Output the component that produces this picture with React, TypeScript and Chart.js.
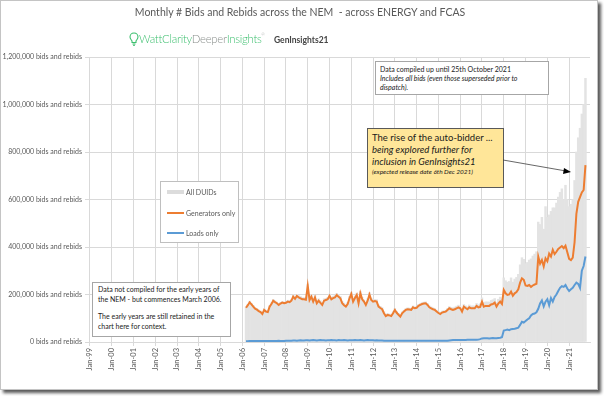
import React, { useEffect, useRef } from 'react';
import { Chart, registerables } from 'chart.js';
Chart.register(...registerables);

const MONTH_NAMES = ['Jan', 'Feb', 'Mar', 'Apr', 'May', 'Jun', 'Jul', 'Aug', 'Sep', 'Oct', 'Nov', 'Dec'];
const FIRST_YEAR = 1999;
const LAST_YEAR = 2021;
const categories: string[] = [];
for (let y = FIRST_YEAR; y <= LAST_YEAR; y++) {
  for (const m of MONTH_NAMES) categories.push(`${m}-${String(y % 100).padStart(2, '0')}`);
}
const DATA_START = 'Mar-06';

// thousands of bids and rebids per month, Mar-06 .. Oct-21
const allDuids = [
  148, 159, 172, 163, 154, 145, 141, 135, 131, 123,
  140, 133, 131, 154, 165, 179, 173, 168, 162, 167, 171, 168,
  171, 176, 174, 180, 198, 189, 200, 195, 192, 187, 187, 186,
  244, 184, 199, 179, 196, 170, 182, 174, 164, 182, 184, 188,
  202, 189, 193, 196, 205, 199, 192, 171, 164, 157, 167, 192,
  210, 178, 194, 206, 171, 214, 188, 177, 164, 183, 208, 185,
  178, 179, 178, 156, 150, 145, 127, 115, 120, 118, 115, 127,
  141, 129, 121, 113, 127, 134, 141, 144, 143, 141, 152, 148,
  150, 158, 162, 166, 168, 169, 162, 152, 148, 144, 141, 134,
  128, 124, 130, 132, 134, 141, 149, 146, 144, 147, 151, 155,
  151, 137, 158, 152, 148, 156, 152, 152, 152, 162, 157, 161,
  186, 166, 169, 169, 168, 175, 178, 183, 166, 180, 189, 181,
  270, 258, 252, 255, 270, 252, 265, 272, 285, 325, 355, 348,
  330, 335, 345, 350, 362, 370, 380, 505, 495, 525, 475, 570,
  525, 535, 550, 565, 565, 585, 610, 630, 645, 600, 660, 600,
  570, 580, 600, 680, 800, 860, 900, 960, 1000, 1110,
];
const generatorsOnly = [
  144, 155, 167, 158, 149, 140, 136, 130, 126, 118,
  135, 128, 126, 149, 160, 174, 168, 163, 156, 162, 166, 163,
  165, 170, 168, 174, 191, 182, 194, 188, 184, 180, 180, 178,
  236, 177, 191, 170, 188, 163, 174, 165, 156, 174, 177, 180,
  194, 180, 185, 188, 198, 190, 184, 163, 155, 149, 160, 184,
  202, 170, 185, 198, 163, 205, 180, 170, 156, 174, 200, 177,
  170, 172, 170, 149, 143, 138, 121, 109, 114, 112, 109, 121,
  135, 123, 115, 107, 121, 128, 135, 138, 137, 135, 146, 142,
  144, 152, 156, 160, 162, 163, 156, 146, 142, 138, 135, 128,
  122, 118, 124, 126, 128, 135, 142, 138, 135, 138, 142, 146,
  142, 128, 149, 143, 138, 146, 142, 142, 142, 152, 146, 148,
  170, 149, 152, 152, 152, 158, 160, 166, 149, 162, 170, 160,
  219, 205, 198, 200, 212, 195, 205, 210, 222, 250, 268, 262,
  238, 236, 240, 232, 238, 242, 245, 359, 330, 345, 318, 352,
  340, 372, 360, 388, 370, 380, 392, 398, 404, 395, 405, 378,
  350, 345, 355, 420, 540, 590, 610, 630, 640, 745,
];
const loadsOnly = [
  3, 3, 4, 4, 4, 4, 4, 4, 4, 4,
  4, 4, 4, 4, 4, 4, 4, 4, 5, 4, 4, 4,
  5, 5, 5, 5, 6, 6, 5, 6, 7, 6, 6, 7,
  7, 6, 7, 8, 7, 6, 7, 8, 7, 7, 6, 7,
  7, 8, 7, 7, 6, 8, 7, 7, 8, 7, 6, 7,
  7, 7, 8, 7, 7, 8, 7, 6, 7, 8, 7, 7,
  7, 6, 7, 6, 6, 6, 5, 5, 5, 5, 5, 5,
  5, 5, 5, 5, 5, 5, 5, 5, 5, 5, 5, 5,
  5, 5, 5, 5, 5, 5, 5, 5, 5, 5, 5, 5,
  5, 5, 5, 5, 5, 5, 6, 7, 8, 8, 8, 8,
  8, 8, 8, 8, 9, 9, 9, 9, 9, 9, 10, 12,
  15, 16, 16, 16, 15, 16, 17, 16, 16, 17, 18, 20,
  48, 50, 52, 50, 54, 55, 56, 58, 60, 72, 85, 82,
  88, 95, 100, 112, 118, 120, 125, 140, 162, 175, 150, 170,
  180, 155, 185, 170, 190, 200, 215, 228, 235, 232, 240, 225,
  215, 222, 228, 240, 250, 245, 228, 300, 320, 360,
];

const Y_MAX = 1200;
const Y_STEP = 200;

function toSeries(values: number[]) {
  const start = categories.indexOf(DATA_START);
  return categories.map((_, i) => (i >= start && i - start < values.length ? values[i - start] : null));
}

const FONT = 'Lato, "Open Sans", sans-serif';

export default function App() {
  const ref = useRef<HTMLCanvasElement>(null);
  useEffect(() => {
    document.body.style.margin = '0';
    const chart = new Chart(ref.current as HTMLCanvasElement, {
      type: 'bar',
      data: {
        labels: categories,
        datasets: [
          {
            type: 'bar',
            label: 'All DUIDs',
            data: toSeries(allDuids),
            backgroundColor: '#e3e3e3',
            borderWidth: 0,
            barPercentage: 1,
            categoryPercentage: 1,
            order: 3,
          } as any,
          {
            type: 'line',
            label: 'Generators only',
            data: toSeries(generatorsOnly),
            borderColor: '#ED7D31',
            borderWidth: 2,
            pointRadius: 0,
            tension: 0,
            order: 2,
          } as any,
          {
            type: 'line',
            label: 'Loads only',
            data: toSeries(loadsOnly),
            borderColor: '#5B9BD5',
            borderWidth: 2,
            pointRadius: 0,
            tension: 0,
            order: 1,
          } as any,
        ],
      },
      options: {
        animation: false,
        responsive: false,
        layout: { padding: { top: 57, right: 14, left: 0, bottom: 0 } },
        plugins: { legend: { display: false }, tooltip: { enabled: false } },
        scales: {
          x: {
            type: 'category',
            offset: true,
            grid: {
              offset: false,
              color: (c: any) => (c.index % 12 === 0 ? '#d9d9d9' : 'rgba(0,0,0,0)'),
              tickLength: 4,
            },
            border: { display: true, color: '#d9d9d9' },
            ticks: {
              autoSkip: false,
              maxRotation: 90,
              minRotation: 90,
              padding: 2,
              color: '#595959',
              font: { family: FONT, size: 7.5 },
              callback: (_v: any, i: number) => (i % 12 === 0 ? categories[i] : ''),
            },
            afterFit: (s: any) => {
              s.height = 54;
            },
          },
          y: {
            min: 0,
            max: Y_MAX,
            ticks: {
              stepSize: Y_STEP,
              padding: 3,
              color: '#595959',
              font: { family: FONT, size: 7 },
              callback: (v: any) => `${(Number(v) * 1000).toLocaleString('en-US')} bids and rebids`,
            },
            grid: { color: '#d9d9d9', tickLength: 4 },
            border: { display: false },
            afterFit: (s: any) => {
              s.width = 89;
            },
          },
        },
      } as any,
    });
    return () => chart.destroy();
  }, []);

  const boxText: React.CSSProperties = { fontFamily: FONT, fontSize: 7, color: '#1a1a1a', whiteSpace: 'nowrap' };

  return (
    <div style={{ position: 'relative', width: 604, height: 396, background: '#fff', overflow: 'hidden', fontFamily: FONT }}>
      <div
        style={{
          position: 'absolute', left: 0, top: 0, width: 596, height: 388,
          border: '1px solid #c4c4c4', boxShadow: '3px 3px 3px #5a5a5a', background: '#fff',
        }}
      />
      <canvas ref={ref} width={604} height={396} style={{ position: 'absolute', left: 0, top: 0 }} />

      <div style={{ position: 'absolute', top: 6, left: 0, width: 600, textAlign: 'center', fontSize: 10.5, color: '#595959', whiteSpace: 'nowrap' }}>
        Monthly # Bids and Rebids across the NEM&nbsp; - across ENERGY and FCAS
      </div>

      <svg style={{ position: 'absolute', left: 129, top: 32 }} width={10} height={14} viewBox="0 0 10 14">
        <path d="M5 1 C2.3 1 1 3 1 5 C1 6.8 2.3 7.8 3 9 L3 10.5 L7 10.5 L7 9 C7.7 7.8 9 6.8 9 5 C9 3 7.7 1 5 1 Z" fill="none" stroke="#3cbf6e" strokeWidth="1.1" />
        <path d="M3.5 12 L6.5 12 M4 13.3 L6 13.3" stroke="#3cbf6e" strokeWidth="1" />
      </svg>
      <div style={{ position: 'absolute', left: 139, top: 32, fontSize: 11.3, letterSpacing: -0.25, whiteSpace: 'nowrap', fontWeight: 300 }}>
        <span style={{ color: '#3cbf6e' }}>WattClarity</span>
        <span style={{ color: '#8a8f8c' }}>Deeper</span>
        <span style={{ color: '#3cbf6e' }}>Insights</span>
        <span style={{ color: '#8a8f8c', fontSize: 4, verticalAlign: 'top' }}>®</span>
      </div>
      <div style={{ position: 'absolute', left: 274, top: 35, fontSize: 8.5, fontWeight: 700, color: '#444', whiteSpace: 'nowrap' }}>
        GenInsights21
      </div>

      <div style={{ position: 'absolute', left: 375, top: 61, width: 164, height: 26, border: '1px solid #a6a6a6', background: '#fff', padding: '3px 4px', lineHeight: '9px', ...boxText }}>
        <div>Data compiled up until 25th October 2021</div>
        <div style={{ fontStyle: 'italic' }}>Includes all bids (even those superseded prior to</div>
        <div style={{ fontStyle: 'italic' }}>dispatch).</div>
      </div>

      <div style={{ position: 'absolute', left: 367, top: 128, width: 127, height: 52, border: '1px solid #595959', background: '#ffe699', padding: '3px 4px', ...boxText }}>
        <div style={{ fontSize: 9.5, lineHeight: '12px' }}>The rise of the auto-bidder ...</div>
        <div style={{ fontSize: 9.5, lineHeight: '12px', fontStyle: 'italic' }}>being explored further for</div>
        <div style={{ fontSize: 9.5, lineHeight: '11px', fontStyle: 'italic' }}>inclusion in GenInsights21</div>
        <div style={{ fontSize: 6.5, lineHeight: '10px', fontStyle: 'italic' }}>(expected release date 6th Dec 2021)</div>
      </div>

      <svg style={{ position: 'absolute', left: 0, top: 0, pointerEvents: 'none' }} width={604} height={396}>
        <line x1={503} y1={160} x2={566} y2={171} stroke="#404040" strokeWidth={0.8} />
        <polygon points="571,172 564,168 563,174" fill="#000" />
      </svg>

      <div style={{ position: 'absolute', left: 160, top: 181, width: 77, height: 60, border: '1px solid #bfbfbf', background: '#fff' }}>
        {[
          { label: 'All DUIDs', color: '#dcdcdc', h: 4, y: 10 },
          { label: 'Generators only', color: '#ED7D31', h: 2, y: 31 },
          { label: 'Loads only', color: '#5B9BD5', h: 2, y: 51 },
        ].map((it) => (
          <React.Fragment key={it.label}>
            <div style={{ position: 'absolute', left: 6, top: it.y - it.h / 2, width: 17, height: it.h, background: it.color }} />
            <div style={{ position: 'absolute', left: 25, top: it.y - 5, lineHeight: '10px', fontSize: 7, color: '#595959', whiteSpace: 'nowrap' }}>
              {it.label}
            </div>
          </React.Fragment>
        ))}
      </div>

      <div style={{ position: 'absolute', left: 92, top: 282, width: 127, height: 51, border: '1px solid #a6a6a6', background: '#fff', padding: '1px 5px', lineHeight: '10px', ...boxText }}>
        <div>Data not compiled for the early years of</div>
        <div>the NEM - but commences March 2006.</div>
        <div style={{ marginTop: 7 }}>The early years are still retained in the</div>
        <div>chart here for context.</div>
      </div>
    </div>
  );
}
